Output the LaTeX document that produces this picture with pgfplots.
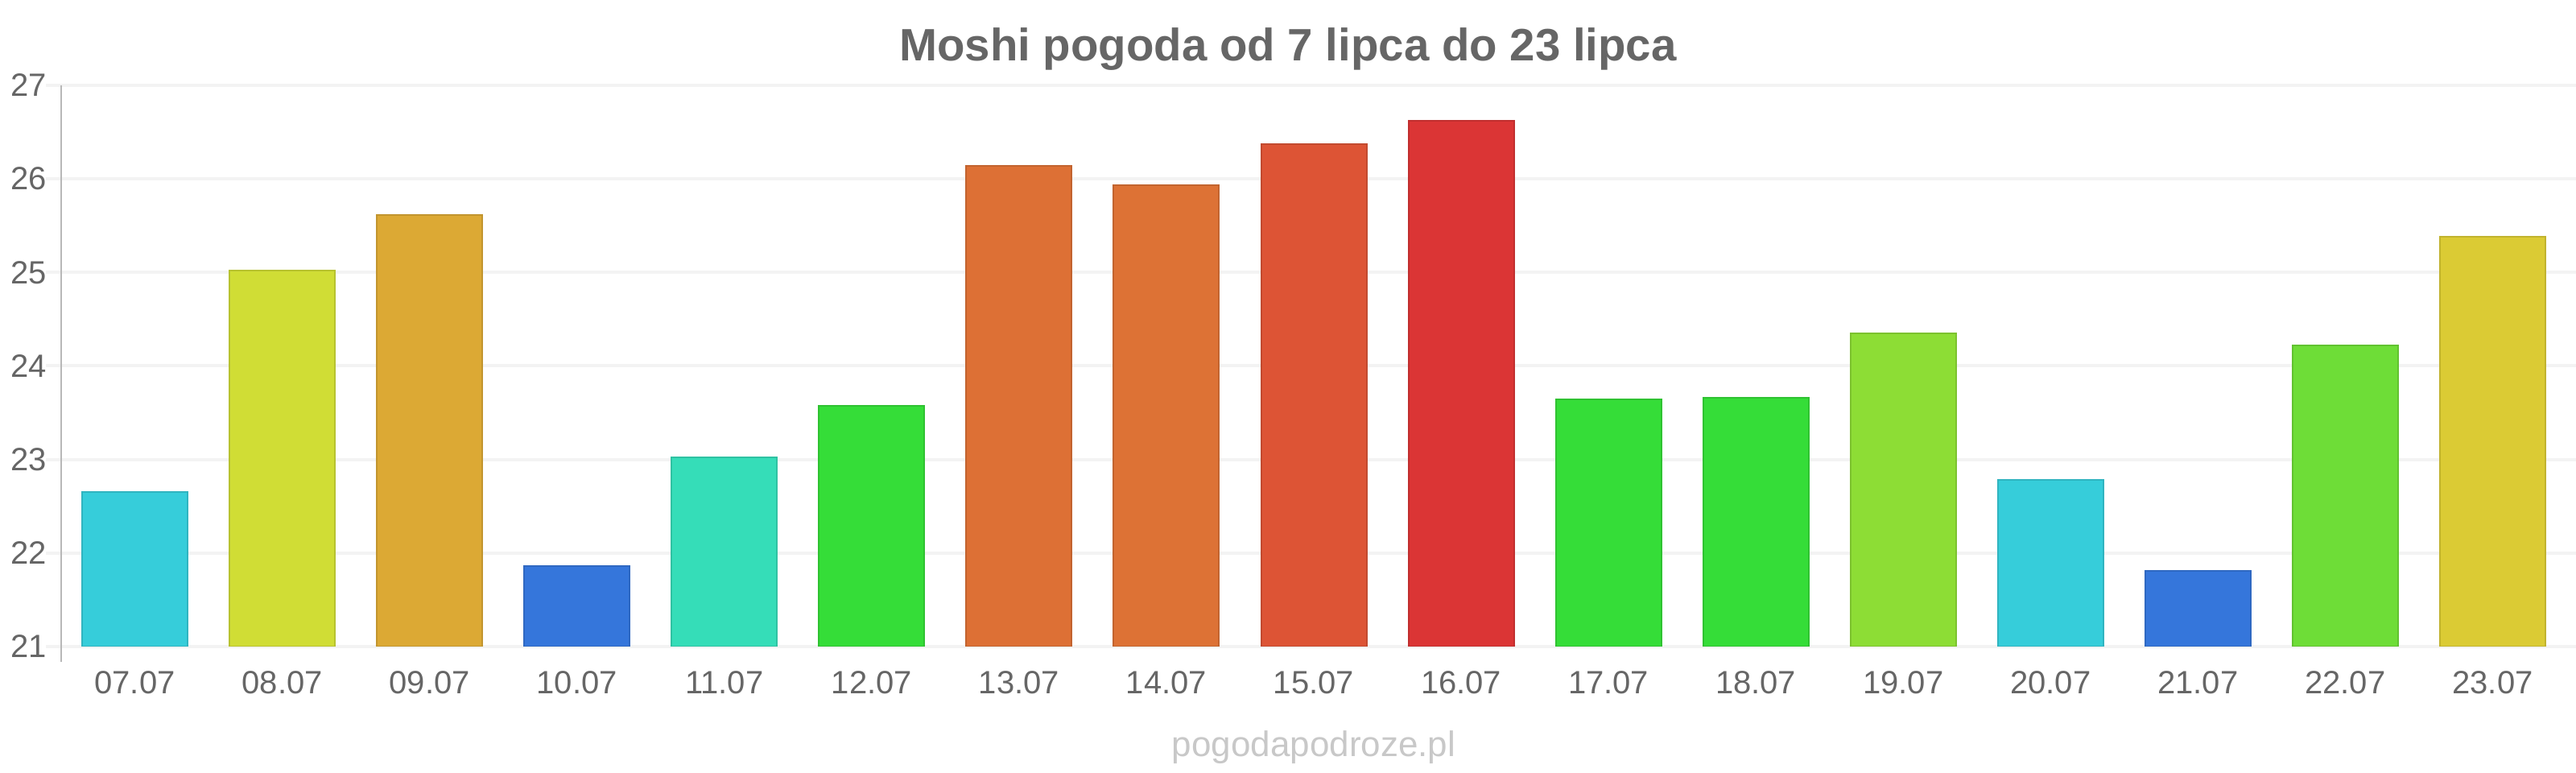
\documentclass[border=0pt]{standalone}
\usepackage{fontspec}
\setmainfont{Liberation Sans}
\usepackage{pgfplots}
\pgfplotsset{compat=1.18}

\definecolor{txtgrey}{HTML}{666666}
\definecolor{srcgrey}{HTML}{C8C8C8}
\definecolor{gridgrey}{HTML}{F3F3F3}
\definecolor{axisgrey}{HTML}{B8B8B8}
\definecolor{cCyan}{HTML}{36CDDA}
\definecolor{cLime}{HTML}{D0DD35}
\definecolor{cAmber}{HTML}{DCA934}
\definecolor{cBlue}{HTML}{3576DB}
\definecolor{cTeal}{HTML}{35DDB8}
\definecolor{cGreen}{HTML}{35DD38}
\definecolor{cOrange}{HTML}{DD7035}
\definecolor{cOrangeB}{HTML}{DD7235}
\definecolor{cRedOr}{HTML}{DD5435}
\definecolor{cRed}{HTML}{DB3535}
\definecolor{cYGreen}{HTML}{8DDD35}
\definecolor{cLGreen}{HTML}{6EDD37}
\definecolor{cYellow}{HTML}{DBCB34}

\pgfplotsset{
  daybar/.style={fill=#1, draw=#1!88!black, line width=0.5bp},
}

\begin{document}
\begin{tikzpicture}
\path[use as bounding box] (0,0) rectangle (800bp,240bp);
\begin{axis}[
  at={(19bp,39.25bp)}, anchor=south west,
  scale only axis,
  width=778bp, height=174.25bp,
  ybar, bar width=32.75bp, bar shift=0pt,
  xmin=-0.5, xmax=16.5,
  ymin=21, ymax=27,
  ytick={21,22,...,27},
  xtick={0,...,16},
  xticklabels={07.07,08.07,09.07,10.07,11.07,12.07,13.07,14.07,15.07,16.07,17.07,18.07,19.07,20.07,21.07,22.07,23.07},
  axis line style={draw=none},
  ymajorgrids,
  grid style={gridgrey, line width=1bp},
  x tick style={draw=none},
  y tick style={gridgrey, line width=1bp},
  tick align=outside,
  major tick length=4.7bp,
  /pgf/number format/assume math mode=true,
  ticklabel style={font=\fontsize{10bp}{12bp}\selectfont, text=txtgrey},
  xticklabel style={yshift=0.6bp},
  yticklabel style={xshift=3.6bp},
  clip=true,
]
\addplot[daybar=cCyan]    coordinates {(0,22.65)};
\addplot[daybar=cLime]    coordinates {(1,25.02)};
\addplot[daybar=cAmber]   coordinates {(2,25.61)};
\addplot[daybar=cBlue]    coordinates {(3,21.86)};
\addplot[daybar=cTeal]    coordinates {(4,23.02)};
\addplot[daybar=cGreen]   coordinates {(5,23.57)};
\addplot[daybar=cOrange]  coordinates {(6,26.14)};
\addplot[daybar=cOrangeB] coordinates {(7,25.93)};
\addplot[daybar=cRedOr]   coordinates {(8,26.37)};
\addplot[daybar=cRed]     coordinates {(9,26.62)};
\addplot[daybar=cGreen]   coordinates {(10,23.64)};
\addplot[daybar=cGreen]   coordinates {(11,23.66)};
\addplot[daybar=cYGreen]  coordinates {(12,24.35)};
\addplot[daybar=cCyan]    coordinates {(13,22.78)};
\addplot[daybar=cBlue]    coordinates {(14,21.81)};
\addplot[daybar=cLGreen]  coordinates {(15,24.22)};
\addplot[daybar=cYellow]  coordinates {(16,25.38)};
\end{axis}
% left axis line, running a little below the lowest grid line
\draw[axisgrey, line width=0.6bp] (19bp,213.5bp) -- (19bp,34.5bp);
\node[text=txtgrey, font=\fontsize{14.1bp}{17bp}\selectfont\bfseries] at (400bp,224.7bp) {Moshi pogoda od 7 lipca do 23 lipca};
\node[text=srcgrey, font=\fontsize{11bp}{13bp}\selectfont] at (408bp,8bp) {pogodapodroze.pl};
\end{tikzpicture}
\end{document}
